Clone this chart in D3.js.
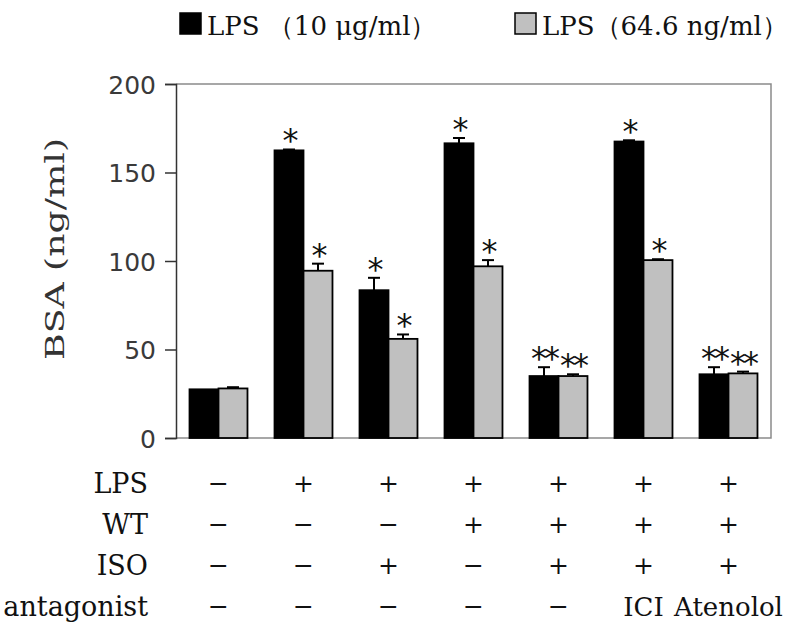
<!DOCTYPE html>
<html>
<head>
<meta charset="utf-8">
<script src="https://cdn.jsdelivr.net/npm/d3@7"></script>
<style>
  html, body { margin: 0; padding: 0; background: #fff; }
  svg { display: block; }
</style>
</head>
<body>
<svg id="chart" width="800" height="631"></svg>
<script>
// ---- data ----
const groups = ["G1", "G2", "G3", "G4", "G5", "G6", "G7"];
const seriesNames = ["LPS （10 μg/ml）", "LPS（64.6 ng/ml）"];
const lps10 = [27.5, 162.5, 83.5, 166.5, 35, 167.5, 36];
const lps10Err = [0, 0.5, 7, 3, 5, 0.7, 4];
const lps646 = [28, 94.5, 56, 97, 35, 100.5, 36.5];
const lps646Err = [0.7, 4, 2.5, 3.5, 1, 0.5, 1];
const lps10Stars = ["", "*", "*", "*", "**", "*", "**"];
const lps646Stars = ["", "*", "*", "*", "**", "*", "**"];
const yTicks = [0, 50, 100, 150, 200];
const rowLabels = ["LPS", "WT", "ISO", "antagonist"];
const rowLPS = ["−", "+", "+", "+", "+", "+", "+"];
const rowWT = ["−", "−", "−", "+", "+", "+", "+"];
const rowISO = ["−", "−", "+", "−", "+", "+", "+"];
const rowAnt = ["−", "−", "−", "−", "−", "ICI", "Atenolol"];
const yLabel = "BSA (ng/ml)";

// ---- layout ----
const svg = d3.select("#chart");
const plotL = 176, plotR = 771, plotT = 84, plotB = 438;
const serif = "'DejaVu Serif', 'Liberation Serif', serif";
const sans = "'DejaVu Sans', Verdana, sans-serif";
const colors = ["#000000", "#c0c0c0"];

const x = d3.scaleBand().domain(groups).range([plotL, plotR])
  .paddingInner(0.318).paddingOuter(0.159);
const xs = d3.scaleBand().domain([0, 1]).range([0, x.bandwidth()]);
const y = d3.scaleLinear().domain([0, 200]).range([plotB, plotT]);

// frame (top, right, bottom)
svg.append("path")
  .attr("d", `M${plotL},${plotT}H${plotR}V${plotB}H${plotL}`)
  .attr("fill", "none").attr("stroke", "#8a8a8a").attr("stroke-width", 1.5);

// y axis
const yAxis = d3.axisLeft(y).tickValues(yTicks).tickSize(11).tickPadding(9);
const ya = svg.append("g").attr("transform", `translate(${plotL},0)`).call(yAxis);
ya.select(".domain").attr("stroke", "#333").attr("stroke-width", 1.5);
ya.selectAll(".tick line").attr("stroke", "#333").attr("stroke-width", 1.5);
ya.selectAll(".tick text").attr("font-family", sans).attr("font-size", 25)
  .attr("fill", "#3a3a3a").attr("dy", "0.36em");

// y label
svg.append("text")
  .attr("transform", `translate(64,249) rotate(-90)`)
  .attr("text-anchor", "middle")
  .attr("font-family", serif).attr("font-size", 26).attr("fill", "#333")
  .attr("textLength", 222).attr("lengthAdjust", "spacingAndGlyphs")
  .text(yLabel);

// bars
const series = [
  {vals: lps10, err: lps10Err, stars: lps10Stars},
  {vals: lps646, err: lps646Err, stars: lps646Stars}
];
series.forEach((s, si) => {
  const g = svg.append("g");
  groups.forEach((grp, i) => {
    const bx = x(grp) + xs(si);
    const bw = xs.bandwidth();
    const v = s.vals[i];
    g.append("rect")
      .attr("x", bx).attr("y", y(v))
      .attr("width", bw).attr("height", y(0) - y(v))
      .attr("fill", colors[si]).attr("stroke", "#000").attr("stroke-width", 1.8);
    const cx = bx + bw / 2;
    const top = y(v + s.err[i]);
    if (s.err[i] > 0) {
      g.append("line").attr("x1", cx).attr("x2", cx).attr("y1", y(v)).attr("y2", top)
        .attr("stroke", "#000").attr("stroke-width", 2);
      g.append("line").attr("x1", cx - 6).attr("x2", cx + 6).attr("y1", top).attr("y2", top)
        .attr("stroke", "#000").attr("stroke-width", 2);
    }
    if (s.stars[i]) {
      g.append("text")
        .attr("x", cx).attr("y", top + 2)
        .attr("text-anchor", "middle")
        .attr("font-family", sans).attr("font-size", 32)
        .attr("letter-spacing", -3)
        .attr("fill", "#111")
        .text(s.stars[i]);
    }
  });
});

// legend
const legend = [
  {x: 180, label: seriesNames[0]},
  {x: 515, label: seriesNames[1]}
];
legend.forEach((l, i) => {
  svg.append("rect").attr("x", l.x).attr("y", 13).attr("width", 21).attr("height", 21)
    .attr("fill", colors[i]).attr("stroke", "#000").attr("stroke-width", 1.5);
  svg.append("text").attr("x", l.x + 27).attr("y", 35)
    .attr("font-family", serif).attr("font-size", 26).attr("fill", "#111")
    .text(l.label);
});

// condition table
const rows = [rowLPS, rowWT, rowISO, rowAnt];
const rowY = [493, 534, 575, 616];
rows.forEach((r, ri) => {
  svg.append("text").attr("x", 148).attr("y", rowY[ri])
    .attr("text-anchor", "end")
    .attr("font-family", serif).attr("font-size", 27).attr("fill", "#111")
    .text(rowLabels[ri]);
  r.forEach((sym, ci) => {
    const isSym = sym === "+" || sym === "−";
    svg.append("text")
      .attr("x", x(groups[ci]) + x.bandwidth() / 2)
      .attr("y", rowY[ri] - (isSym ? 1 : 0))
      .attr("text-anchor", "middle")
      .attr("font-family", serif).attr("font-size", isSym ? 25 : 26).attr("fill", "#111")
      .text(sym);
  });
});
</script>
</body>
</html>
